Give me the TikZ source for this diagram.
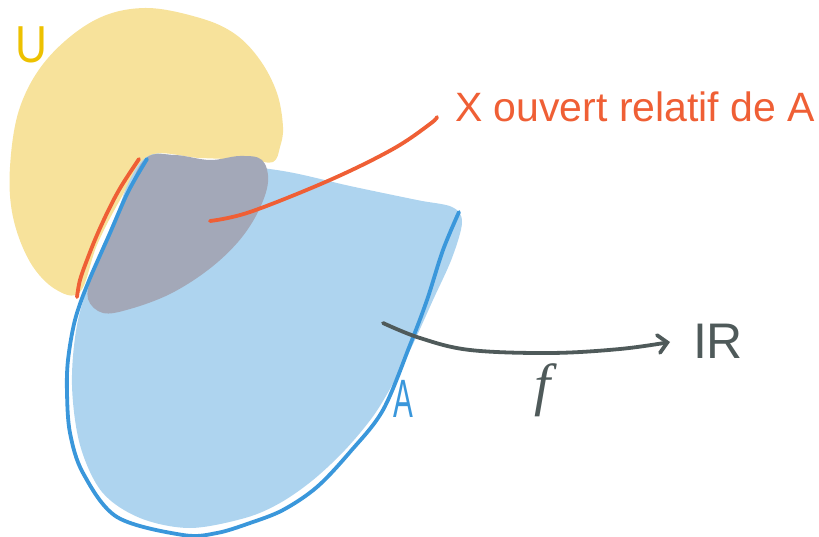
\documentclass[tikz,border=0pt]{standalone}
\usepackage{fontspec}
\setmainfont{Liberation Sans}
\newfontfamily\fserif{Liberation Serif}
\usetikzlibrary{arrows.meta}
\definecolor{yelfill}{HTML}{F7E29B}
\definecolor{bluefill}{HTML}{AED4EF}
\definecolor{grayfill}{HTML}{A3A8B8}
\definecolor{blueline}{HTML}{3A97DB}
\definecolor{orangeline}{HTML}{EF5F35}
\definecolor{darkline}{HTML}{4F5A5A}
\definecolor{gold}{HTML}{EDC100}
\tikzset{
  stroke/.style={line width=3.8pt, line cap=round, line join=round},
  lbl/.style={inner sep=0pt, outer sep=0pt, anchor=base west},
}
\begin{document}
\begin{tikzpicture}[x=1pt,y=-1pt]
\useasboundingbox (0,0) rectangle (819,537);
% region A (fill)
\fill[bluefill] plot[smooth cycle, tension=0.55] coordinates {
  (143,156) (200,161) (283,171) (350,186) (417,200) (452,207) (462,222)
  (452,258) (433,300) (414,342) (396,378) (374,415) (345,450) (313,480)
  (280,503) (245,518) (190,528) (140,518) (102,492) (80,445) (72,385)
  (77,325) (93,272) (118,210)};
% open set U
\fill[yelfill] plot[smooth cycle, tension=0.6] coordinates {
  (148,156) (120,200) (97,245) (80,292) (55,289) (30,262) (13,217) (10,167)
  (20,107) (48,58) (95,20) (145,8) (200,18) (235,34) (260,60) (277,93)
  (283,127) (280,147) (273,162) (250,160) (200,158)};
% X = U cap A
\fill[grayfill] plot[smooth cycle, tension=0.6] coordinates {
  (146,158) (175,155) (210,160) (240,156) (262,160) (268,182) (258,212)
  (238,242) (208,270) (170,294) (130,309) (103,313) (88,299) (92,275)
  (106,240) (126,195)};
% boundary of A
\draw[stroke, blueline] plot[smooth, tension=0.55] coordinates {
  (147,159) (128,192) (110,233) (88,283) (75,320) (68,360) (67,393)
  (70,433) (83,473) (117,517) (183,535) (217,533) (250,523) (283,510)
  (317,487) (350,452) (383,410) (410,345) (427,300) (443,250) (459,212)};
% orange boundary of X
\draw[stroke, orangeline] plot[smooth, tension=0.6] coordinates {
  (139,159) (122,185) (110,207) (97,235) (87,260) (80,280) (77,297)};
% pointer to X
\coordinate (xs) at (210,221);
\coordinate (xe) at (437,117);
\draw[stroke, orangeline] plot[smooth, tension=0.6] coordinates {
  (xs) (250,212) (330,180) (393,149) (430,124) (xe)};
% labels
\node[lbl, text=orangeline, font=\fontsize{41}{41}\selectfont] (lx) at (455,122) {X ouvert relatif de A};
\node[lbl, text=gold, font=\fontsize{52}{52}\selectfont] (lu) at (15,63) {\scalebox{0.85}[1]{U}};
\node[lbl, text=blueline, font=\fontsize{54}{54}\selectfont] (la) at (393,417) {\scalebox{0.55}[1]{A}};
\node[lbl, text=darkline, font=\fontsize{50}{50}\selectfont] (lr) at (693,358) {IR};
\node[inner sep=0pt, text=darkline, font=\fserif\itshape\fontsize{58}{58}\selectfont] (lf) at (543,390) {f};
% map f
\coordinate (fs) at (383,323);
\draw[stroke, darkline, -{Straight Barb[length=9pt,width=18pt,line cap=round]}]
  plot[smooth, tension=0.6] coordinates {(fs) (420,338) (470,350) (550,353) (620,349) (670,342)};
\end{tikzpicture}
\end{document}
